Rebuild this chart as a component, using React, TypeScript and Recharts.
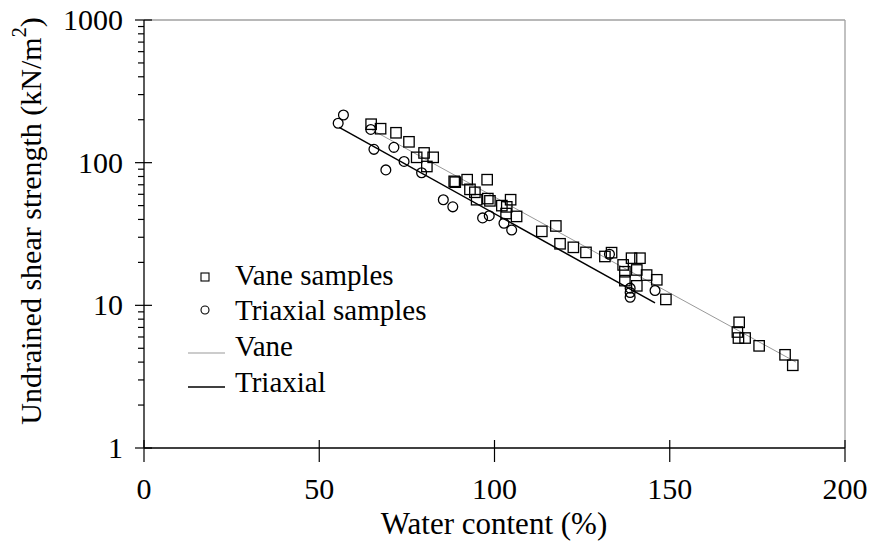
import React from 'react';
import {
  ScatterChart, Scatter, XAxis, YAxis, ReferenceLine, Legend,
} from 'recharts';

// water content (%) and undrained shear strength (kN/m2)
const VANE_W = [
  64.8, 67.5, 71.9, 75.6, 77.8, 79.9, 82.5, 80.7, 88.5, 88.8, 92.2, 97.9, 93.0, 94.4, 94.9, 98.1,
  98.7, 104.6, 102.1, 103.5, 103.3, 106.3, 113.5, 117.5, 118.7, 122.5, 126.1, 131.5, 133.4, 136.7,
  139.1, 141.5, 137.2, 140.6, 137.2, 143.4, 146.3, 140.6, 148.9, 169.8, 169.3, 169.6, 171.5, 175.5,
  182.9, 185.1,
];
const VANE_SU = [
  186, 173, 162, 140, 109, 117, 109, 94, 74, 73, 76, 76, 65, 62, 55, 56,
  54, 55, 50, 49, 44, 42, 33, 36, 27, 25.5, 23.5, 22, 23.4, 19.2,
  21.4, 21.4, 17.2, 17.7, 14.9, 16.3, 15.1, 13.7, 11, 7.6, 6.5, 5.9, 5.9, 5.2,
  4.5, 3.8,
];
const TRIAX_W = [
  56.9, 55.4, 64.7, 65.6, 71.3, 69.0, 74.2, 79.2, 85.4, 88.1, 96.6, 98.5, 102.7, 104.9,
  132.8, 138.7, 138.7, 138.7, 145.8,
];
const TRIAX_SU = [
  216, 189, 171, 124, 128, 89, 102, 85, 55, 49, 41, 42.5, 37.6, 33.7,
  22.8, 13.2, 12.3, 11.4, 12.7,
];

// fitted lines, end points
const VANE_FIT_W = [65, 186];
const VANE_FIT_SU = [170, 4.0];
const TRIAX_FIT_W = [55.7, 145.8];
const TRIAX_FIT_SU = [177, 10.4];

const X_TICKS = [0, 50, 100, 150, 200];
const Y_MAJOR = [1, 10, 100, 1000];
const Y_TICKS = [
  1, 2, 3, 4, 5, 6, 7, 8, 9,
  10, 20, 30, 40, 50, 60, 70, 80, 90,
  100, 200, 300, 400, 500, 600, 700, 800, 900,
  1000,
];
const LEGEND_ROWS = ['Vane samples', 'Triaxial samples', 'Vane', 'Triaxial'];

const toPoints = (w: number[], su: number[]) => w.map((x, i) => ({ w: x, su: su[i] }));

const vanePts = toPoints(VANE_W, VANE_SU);
const triaxPts = toPoints(TRIAX_W, TRIAX_SU);
const vaneFit = toPoints(VANE_FIT_W, VANE_FIT_SU);
const triaxFit = toPoints(TRIAX_FIT_W, TRIAX_FIT_SU);

const W = 870;
const H = 542;
const PLOT_LEFT = 144;
const PLOT_BOTTOM = 448;
const FONT = "'Liberation Serif', 'Times New Roman', Times, serif";

const txt = (size: number) => ({ fontFamily: FONT, fontSize: size, fill: '#000' });

const Square = (props: any) => {
  const { cx, cy } = props;
  if (cx == null || cy == null) return <g />;
  return <rect x={cx - 5.2} y={cy - 5.2} width={10.4} height={10.4} fill="none" stroke="#000" strokeWidth={1.3} />;
};

const Circle = (props: any) => {
  const { cx, cy } = props;
  if (cx == null || cy == null) return <g />;
  return <circle cx={cx} cy={cy} r={4.9} fill="none" stroke="#000" strokeWidth={1.3} />;
};

const NoShape = () => <g />;

const YTick = (props: any) => {
  const { y, payload } = props;
  const major = Y_MAJOR.includes(payload.value);
  return (
    <g>
      <line
        x1={PLOT_LEFT - (major ? 9 : 6)}
        x2={PLOT_LEFT + (major ? 8 : 0)}
        y1={y}
        y2={y}
        stroke="#000"
        strokeWidth={1.2}
      />
      {major && (
        <text x={PLOT_LEFT - 21} y={y + 10} textAnchor="end" style={txt(30)}>
          {payload.value}
        </text>
      )}
    </g>
  );
};

const XTick = (props: any) => {
  const { x, payload } = props;
  return (
    <g>
      <line x1={x} x2={x} y1={PLOT_BOTTOM - 8} y2={PLOT_BOTTOM + 14} stroke="#000" strokeWidth={1.2} />
      <text x={x} y={PLOT_BOTTOM + 51} textAnchor="middle" style={txt(30)}>
        {payload.value}
      </text>
    </g>
  );
};

const XTitle = () => (
  <text x={494} y={534} textAnchor="middle" style={txt(31)}>
    Water content (%)
  </text>
);

const YTitle = () => (
  <text
    x={30}
    y={221}
    transform="rotate(-90 30 221)"
    textAnchor="middle"
    dominantBaseline="central"
    style={txt(30)}
  >
    Undrained shear strength (kN/m
    <tspan dy={-11} style={{ fontSize: 20 }}>2</tspan>
    <tspan dy={11}>)</tspan>
  </text>
);

// legend drawn relative to its wrapper (left 178, top 258)
function LegendBox() {
  const baselines = [27, 62, 98, 134];
  return (
    <svg width={320} height={150}>
      <rect x={23} y={15} width={8} height={8} fill="none" stroke="#000" strokeWidth={1.1} />
      <circle cx={27} cy={52} r={4} fill="none" stroke="#000" strokeWidth={1.1} />
      <line x1={10} x2={47} y1={95} y2={95} stroke="#999" strokeWidth={1} />
      <line x1={10} x2={47} y1={129} y2={129} stroke="#000" strokeWidth={1.5} />
      {LEGEND_ROWS.map((r, i) => (
        <text key={r} x={57} y={baselines[i]} style={txt(29)}>
          {r}
        </text>
      ))}
    </svg>
  );
}

export default function App() {
  return (
    <div style={{ position: 'absolute', left: 0, top: 0, width: W, height: H, background: '#fff' }}>
      <ScatterChart width={W} height={H} margin={{ top: 20, right: 25, bottom: 0, left: 0 }}>
        <XAxis
          type="number"
          dataKey="w"
          domain={[0, 200]}
          ticks={X_TICKS}
          interval={0}
          height={94}
          tick={<XTick />}
          tickLine={false}
          axisLine={{ stroke: '#000', strokeWidth: 1.3 }}
          label={<XTitle />}
        />
        <YAxis
          type="number"
          dataKey="su"
          scale="log"
          domain={[1, 1000]}
          allowDataOverflow
          ticks={Y_TICKS}
          interval={0}
          width={144}
          tick={<YTick />}
          tickLine={false}
          axisLine={{ stroke: '#000', strokeWidth: 1.3 }}
          label={<YTitle />}
        />
        <ReferenceLine y={1000} stroke="#a0a0a0" strokeWidth={1.3} />
        <ReferenceLine x={200} stroke="#a0a0a0" strokeWidth={1.3} />
        <Scatter data={vaneFit} line={{ stroke: '#999', strokeWidth: 1 }} shape={NoShape} isAnimationActive={false} />
        <Scatter data={triaxFit} line={{ stroke: '#000', strokeWidth: 1.5 }} shape={NoShape} isAnimationActive={false} />
        <Scatter data={vanePts} shape={Square} isAnimationActive={false} />
        <Scatter data={triaxPts} shape={Circle} isAnimationActive={false} />
        <Legend
          layout="vertical"
          align="center"
          verticalAlign="middle"
          content={() => <LegendBox />}
          wrapperStyle={{ left: 178, top: 258, width: 320, height: 150 }}
        />
      </ScatterChart>
    </div>
  );
}
